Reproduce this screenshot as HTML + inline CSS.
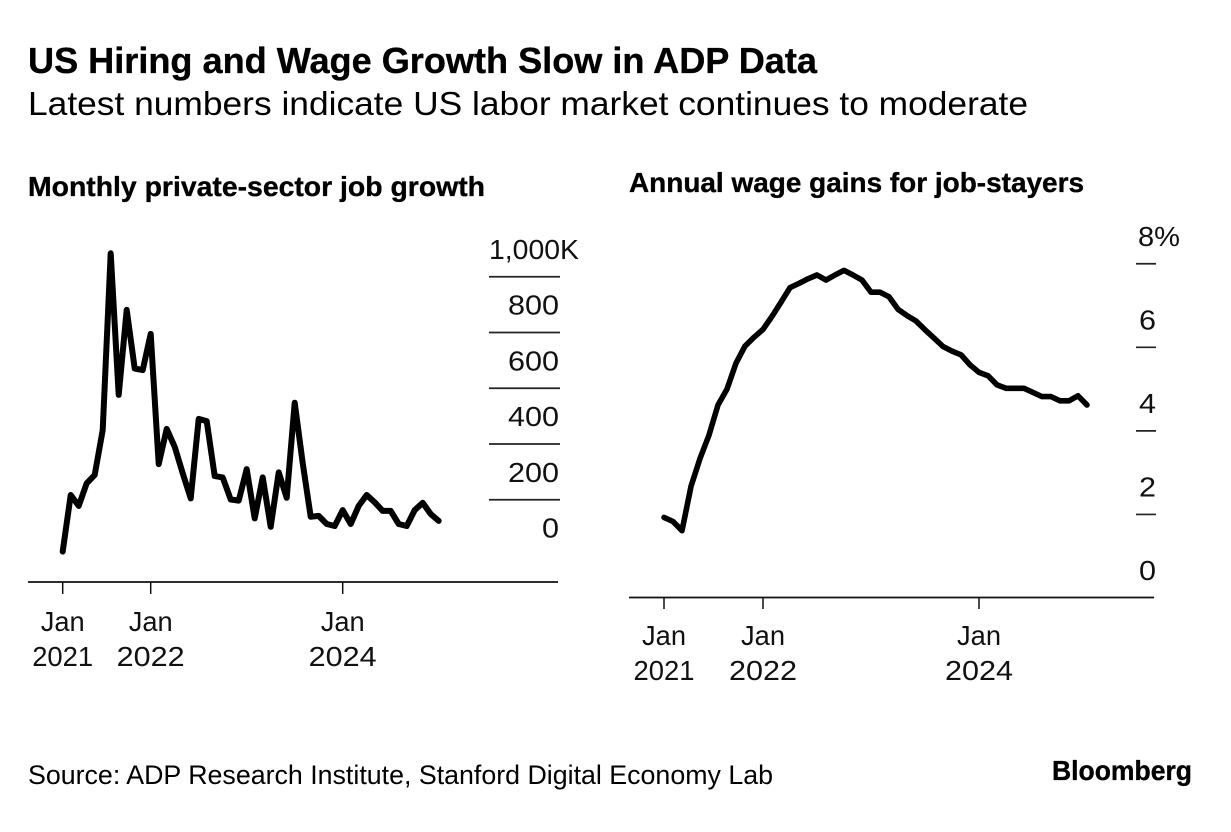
<!DOCTYPE html>
<html lang="en">
<head>
<meta charset="utf-8">
<title>US Hiring and Wage Growth Slow in ADP Data</title>
<style>
html,body{margin:0;padding:0;background:#fff;width:1231px;height:832px;overflow:hidden}
svg{display:block}
text{font-family:"Liberation Sans",Arial,sans-serif;fill:#000}
.axis-text{font-size:28px;fill:#111}
.head{font-weight:700;stroke:#000;stroke-width:.35px}
</style>
</head>
<body>
<svg id="root" width="1231" height="832" viewBox="0 0 1231 832" xmlns="http://www.w3.org/2000/svg">
  <rect width="1231" height="832" fill="#fff"/>
  <text class="head" x="28" y="73" font-size="36" textLength="789" lengthAdjust="spacingAndGlyphs">US Hiring and Wage Growth Slow in ADP Data</text>
  <text x="28" y="115" font-size="33" textLength="1000" lengthAdjust="spacingAndGlyphs">Latest numbers indicate US labor market continues to moderate</text>
  <text class="head" x="28" y="196" font-size="28" textLength="457" lengthAdjust="spacingAndGlyphs">Monthly private-sector job growth</text>
  <text class="head" x="629" y="192" font-size="28" textLength="455" lengthAdjust="spacingAndGlyphs">Annual wage gains for job-stayers</text>
  <g id="left-chart"></g>
  <g id="right-chart"></g>
  <text x="28" y="784" font-size="27" fill="#111" textLength="745" lengthAdjust="spacingAndGlyphs">Source: ADP Research Institute, Stanford Digital Economy Lab</text>
  <text class="head" x="1052" y="780" font-size="28" textLength="140" lengthAdjust="spacingAndGlyphs">Bloomberg</text>
</svg>
<script>
const months = ['2021-01','2021-03','2021-04','2021-05','2021-06','2021-07','2021-08','2021-09','2021-10','2021-11','2021-12',
  '2022-01','2022-02','2022-03','2022-04','2022-05','2022-06','2022-07','2022-08','2022-09','2022-10','2022-11','2022-12',
  '2023-01','2023-02','2023-03','2023-04','2023-05','2023-06','2023-07','2023-08','2023-09','2023-10','2023-11','2023-12',
  '2024-01','2024-02','2024-03','2024-04','2024-05','2024-06','2024-07','2024-08','2024-09','2024-10','2024-11','2024-12','2025-01'];
const jobGrowth = [14,217,178,259,289,450,1084,576,881,671,665,795,328,454,390,295,205,490,482,285,280,201,197,310,133,280,103,298,207,548,332,139,142,113,106,163,113,178,217,191,160,160,113,106,163,189,149,124];
const wageGains = [1.93,1.83,1.61,2.67,3.34,3.90,4.62,5.00,5.62,6.03,6.24,6.43,6.74,7.08,7.43,7.53,7.64,7.73,7.61,7.73,7.84,7.73,7.61,7.32,7.32,7.21,6.91,6.76,6.63,6.42,6.22,6.02,5.91,5.82,5.58,5.40,5.32,5.10,5.02,5.02,5.02,4.92,4.82,4.82,4.72,4.72,4.84,4.62];
const xTickMonths = ['2021-01','2022-01','2024-01'];
const xTickLines1 = ['Jan','Jan','Jan'];
const xTickLines2 = ['2021','2022','2024'];
const jobTickValues = [0,200,400,600,800,1000];
const jobTickLabels = ['0','200','400','600','800','1,000K'];
const wageTickValues = [0,2,4,6,8];
const wageTickLabels = ['0','2','4','6','8%'];

const NS = 'http://www.w3.org/2000/svg';
function mk(parent, tag, attrs, text) {
  const el = document.createElementNS(NS, tag);
  for (const k in attrs) el.setAttribute(k, attrs[k]);
  if (text !== undefined) el.textContent = text;
  parent.appendChild(el);
  return el;
}
/* the reference face has wider digits than Liberation; stretch labels to its advance widths */
function labelWidth(s) {
  const w = {'1': 10, ',': 8, 'K': 21, '%': 25, 'J': 14, 'a': 15, 'n': 15};
  let sum = 0;
  for (const c of s) sum += (w[c] !== undefined ? w[c] : 17);
  return sum;
}
function axisText(parent, x, y, anchor, s) {
  const t = mk(parent, 'text', {class: 'axis-text', x: x, y: y, 'text-anchor': anchor}, s);
  t.setAttribute('textLength', labelWidth(s));
  t.setAttribute('lengthAdjust', 'spacingAndGlyphs');
  return t;
}

/* left panel scales */
const jobX = i => 62.7 + i * 8;
const jobY = v => 555.5 - v * 0.27875;
/* right panel scales */
const wageX = i => 664 + i * 9;
const wageY = v => 598 - v * 41.78;

const leftG = document.getElementById('left-chart');
const rightG = document.getElementById('right-chart');

/* left gridlines and labels */
jobTickValues.forEach((v, i) => {
  const y = jobY(v);
  if (v !== 0) {
    const g = mk(leftG, 'line', {x1: 489, x2: 560, y1: y, y2: y, stroke: '#222', 'stroke-width': 1.7});
    
    
  }
  const isTop = i === jobTickValues.length - 1;
  const t = axisText(leftG, isTop ? 489 : 559, y - 18, isTop ? 'start' : 'end', jobTickLabels[i]);
  
  
});

/* left x axis */
const leftAxis = mk(leftG, 'line', {x1: 28, x2: 558, y1: 582, y2: 582, stroke: '#111', 'stroke-width': 1.7});


xTickMonths.forEach((m, i) => {
  const x = jobX(months.indexOf(m));
  const tick = mk(leftG, 'line', {x1: x, x2: x, y1: 582, y2: 594, stroke: '#111', 'stroke-width': 1.5});
  
  
  const a = axisText(leftG, x, 631, 'middle', xTickLines1[i]);
  
  
  const b = axisText(leftG, x, 666, 'middle', xTickLines2[i]);
  
  
});

/* left line */
const jobLine = mk(leftG, 'path', {
  d: jobGrowth.map((v, i) => (i ? 'L' : 'M') + jobX(i).toFixed(1) + ' ' + jobY(v).toFixed(1)).join(''),
  fill: 'none', stroke: '#000', 'stroke-width': 6, 'stroke-linejoin': 'round', 'stroke-linecap': 'round'
});



/* right ticks and labels */
wageTickValues.forEach((v, i) => {
  const y = wageY(v);
  if (v !== 0) {
    const g = mk(rightG, 'line', {x1: 1136, x2: 1156, y1: y, y2: y, stroke: '#222', 'stroke-width': 1.7});
    
    
  }
  const isTop = i === wageTickValues.length - 1;
  const t = axisText(rightG, isTop ? 1138 : 1156, y - 18, isTop ? 'start' : 'end', wageTickLabels[i]);
  
  
});

/* right x axis */
const rightAxis = mk(rightG, 'line', {x1: 629, x2: 1154, y1: 597.5, y2: 597.5, stroke: '#111', 'stroke-width': 1.7});


xTickMonths.forEach((m, i) => {
  const x = wageX(months.indexOf(m));
  const tick = mk(rightG, 'line', {x1: x, x2: x, y1: 597.5, y2: 609, stroke: '#111', 'stroke-width': 1.5});
  
  
  const a = axisText(rightG, x, 645, 'middle', xTickLines1[i]);
  
  
  const b = axisText(rightG, x, 680, 'middle', xTickLines2[i]);
  
  
});

/* right line */
const wageLine = mk(rightG, 'path', {
  d: wageGains.map((v, i) => (i ? 'L' : 'M') + wageX(i).toFixed(1) + ' ' + wageY(v).toFixed(1)).join(''),
  fill: 'none', stroke: '#000', 'stroke-width': 5.6, 'stroke-linejoin': 'round', 'stroke-linecap': 'round'
});


</script>
</body>
</html>
